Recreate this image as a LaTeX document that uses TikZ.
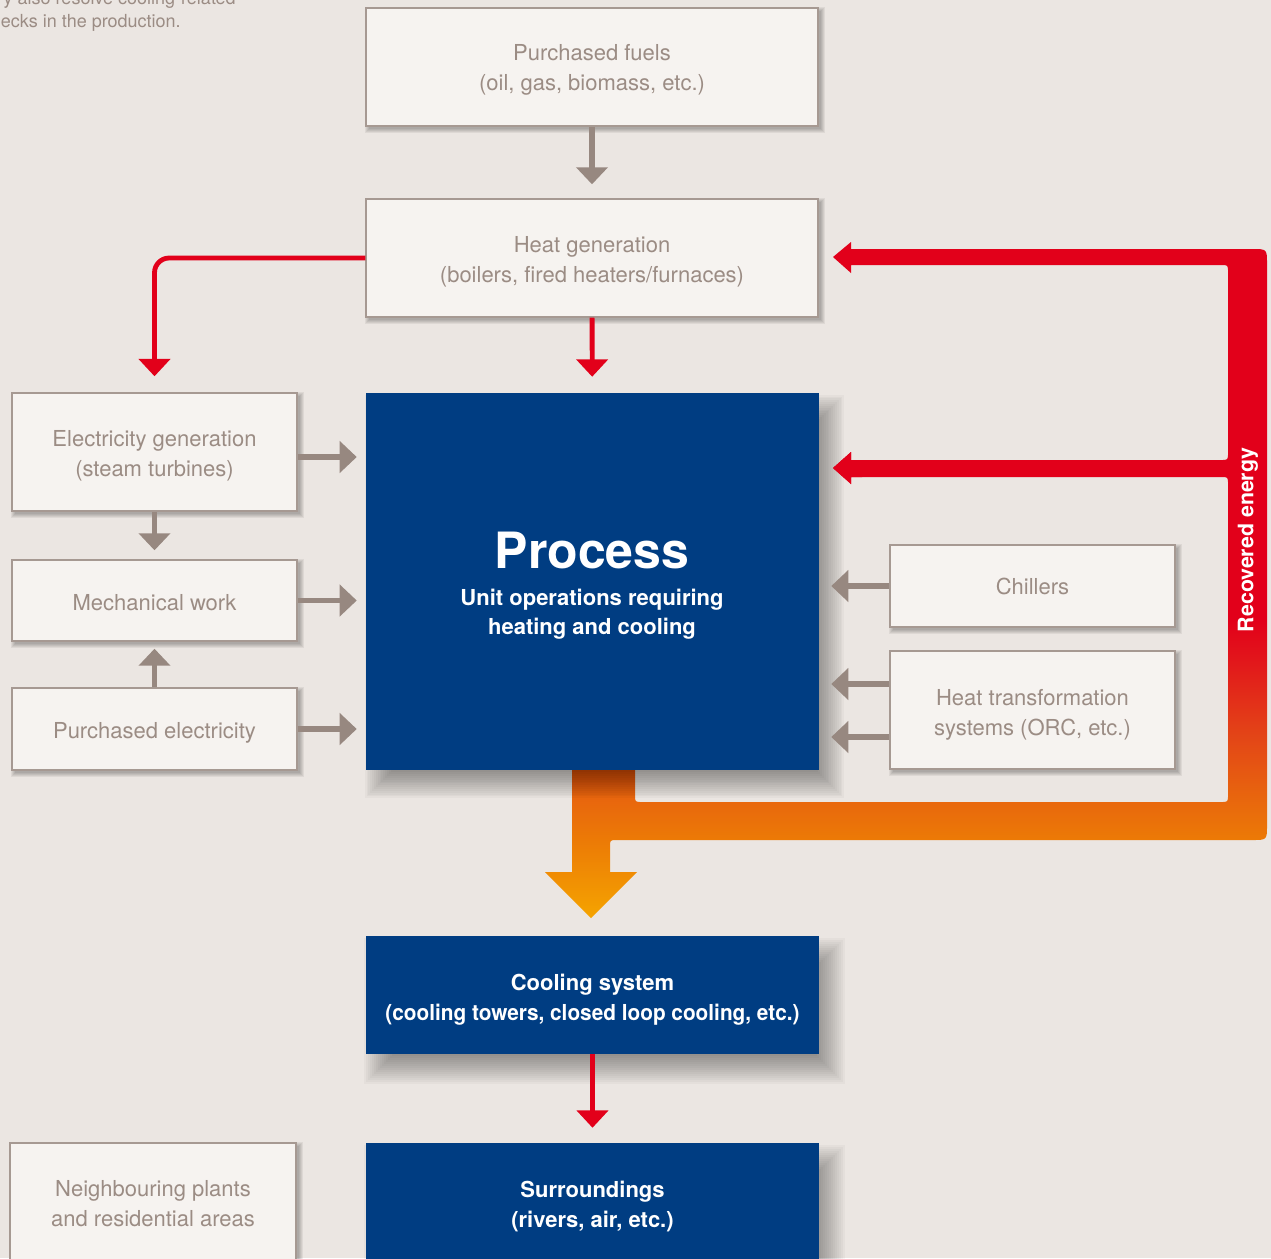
\documentclass[tikz,border=0pt]{standalone}
\usepackage{fontspec}
\setmainfont{TeX Gyre Heros}
\usetikzlibrary{arrows.meta,calc}
\definecolor{bgc}{RGB}{235,230,226}
\definecolor{boxfill}{RGB}{246,243,240}
\definecolor{boxline}{RGB}{166,153,146}
\definecolor{boxtext}{RGB}{155,140,132}
\definecolor{arrowgray}{RGB}{151,136,128}
\definecolor{procblue}{RGB}{0,61,130}
\definecolor{recred}{RGB}{226,0,26}
\definecolor{bandA}{RGB}{245,164,0}
\definecolor{bandB}{RGB}{236,122,6}
\definecolor{bandC}{RGB}{232,101,14}
\definecolor{bandD}{RGB}{227,69,23}
\definecolor{bandE}{RGB}{226,23,27}
\pgfdeclareverticalshading{bandshade}{100bp}{color(0bp)=(bandA); color(25bp)=(bandA); color(30.8bp)=(bandB); color(34bp)=(bandC); color(38.5bp)=(bandD); color(44bp)=(bandE); color(47bp)=(recred); color(100bp)=(recred)}
\pgfdeclarelayer{back}
\pgfdeclarelayer{shadowlayer}
\pgfsetlayers{back,shadowlayer,main}
% soft shadow: node, dx, dy, radius, steps, opacity per step (pixel units)
\newcommand\mkshadow[6]{%
  \foreach \k in {0,...,#5}{%
    \pgfmathsetmacro\g{#4*(2*\k/#5-1)}%
    \fill[black, opacity=#6] ($(#1.north west)+(#2-\g,#3-\g)$) rectangle ($(#1.south east)+(#2+\g,#3+\g)$);
  }%
}
\tikzset{
  lbox/.style={draw=boxline, line width=1.1pt, fill=boxfill, inner sep=0pt},
  bbox/.style={fill=procblue, inner sep=0pt},
  ltext/.style={text=boxtext, font=\fontsize{16.5}{22.5}\selectfont, align=center, inner sep=0pt},
  btext/.style={text=white, font=\bfseries\fontsize{16.5}{22.5}\selectfont, align=center, inner sep=0pt},
  garrow/.style={draw=arrowgray, line width=4pt, -{Triangle[length=12.75pt,width=23.25pt]}},
  rarrow/.style={draw=recred, line width=3.6pt, -{Triangle[length=13pt,width=23.25pt]}},
  note/.style={text=boxtext, font=\fontsize{13.5}{17}\selectfont, inner sep=0pt},
}
\begin{document}
\begin{tikzpicture}[x=0.75pt,y=-0.75pt]
\useasboundingbox (0,0) rectangle (1271,1258);
\begin{pgfonlayer}{back}
\fill[bgc] (0,0) rectangle (1271,1258);
% recovered energy band
\shade[shading=bandshade]
  (833,257) -- (851,242) -- (851,249)
  -- (1252,249) .. controls (1267,249) .. (1267,264)
  -- (1267,825) .. controls (1267,840) .. (1252,840)
  -- (617,840) .. controls (610,840) .. (610,847)
  -- (610,872) -- (637,872) -- (591,918) -- (545,872) -- (572,872)
  -- (572,765) -- (635,765)
  -- (635,795) .. controls (635,802) .. (642,802)
  -- (1221,802) .. controls (1228,802) .. (1228,795)
  -- (1228,484) .. controls (1228,477) .. (1221,477)
  -- (851,477) -- (851,484) -- (833,468) -- (851,452) -- (851,460)
  -- (1221,460) .. controls (1228,460) .. (1228,453)
  -- (1228,272) .. controls (1228,265) .. (1221,265)
  -- (851,265) -- (851,273) -- cycle;
\end{pgfonlayer}

% partial note text
\node[note, anchor=base east] (note1) at (236,4.5) {y also resolve cooling-related};
\node[note, anchor=base east] (note2) at (181,27) {ecks in the production.};

% arrow head over the process shadow
\fill[recred] (833,468) -- (851,452) -- (851,460) -- (862,460) -- (862,477) -- (851,477) -- (851,484) -- cycle;
\node[text=white, font=\bfseries\fontsize{16}{19}\selectfont, rotate=90, inner sep=0pt] (rec) at (1248,540) {Recovered energy};

% boxes
\node[lbox, minimum width=339pt, minimum height=88.5pt] (fuels) at (592,67) {};
\node[ltext] (fuelsT) at ([yshift=-2.5pt]fuels.center) {Purchased fuels\\(oil, gas, biomass, etc.)};
\node[lbox, minimum width=339pt, minimum height=88.5pt] (heat) at (592,258) {};
\node[ltext] (heatT) at ([yshift=-2.5pt]heat.center) {Heat generation\\(boilers, fired heaters/furnaces)};
\node[bbox, minimum width=339.75pt, minimum height=282.75pt] (proc) at (592.5,581.5) {};
\node[text=white, font=\bfseries\fontsize{37.5}{40}\selectfont, inner sep=0pt] (proctitle) at (592,550) {Process};
\node[text=white, font=\bfseries\fontsize{16.5}{21.75}\selectfont, align=center, inner sep=0pt] (procsub) at (592,614) {Unit operations requiring\\heating and cooling};
\node[lbox, minimum width=213.75pt, minimum height=88.5pt] (elec) at (154.5,452) {};
\node[ltext] (elecT) at ([yshift=-3pt]elec.center) {Electricity generation\\(steam turbines)};
\node[lbox, minimum width=213.75pt, minimum height=60.75pt] (mech) at (154.5,600.5) {};
\node[ltext] (mechT) at ([yshift=-1.5pt]mech.center) {Mechanical work};
\node[lbox, minimum width=213.75pt, minimum height=61.5pt] (purch) at (154.5,729) {};
\node[ltext] (purchT) at ([yshift=-3pt]purch.center) {Purchased electricity};
\node[lbox, minimum width=213.75pt, minimum height=61.5pt] (chill) at (1032.5,586) {};
\node[ltext] (chillT) at (chill.center) {Chillers};
\node[lbox, minimum width=213.75pt, minimum height=88.5pt] (htrans) at (1032.5,710) {};
\node[ltext] (htransT) at ([yshift=-3.75pt]htrans.center) {Heat transformation\\systems (ORC, etc.)};
\node[bbox, minimum width=339.75pt, minimum height=88.5pt] (cool) at (592.5,995) {};
\node[btext] (coolT) at ([yshift=-3.4pt]cool.center) {Cooling system\\\scalebox{0.945}[1]{(cooling towers, closed loop cooling, etc.)}};
\node[bbox, minimum width=339.75pt, minimum height=88.5pt] (surr) at (592.5,1202) {};
\node[btext] (surrT) at ([yshift=-3pt]surr.center) {Surroundings\\(rivers, air, etc.)};
\node[lbox, minimum width=214.5pt, minimum height=88.5pt] (neigh) at (153,1202) {};
\node[ltext] (neighT) at ([yshift=-1.5pt]neigh.center) {Neighbouring plants\\and residential areas};

% shadows
\begin{pgfonlayer}{shadowlayer}
\mkshadow{proc}{12}{15}{13}{14}{0.028}
\mkshadow{cool}{12}{16}{14}{14}{0.028}
\mkshadow{surr}{12}{16}{14}{14}{0.028}
\foreach \b in {fuels,heat,elec,mech,purch,chill,htrans,neigh}{\mkshadow{\b}{3}{3}{3.5}{6}{0.06}}
\end{pgfonlayer}

% connectors
\draw[garrow, shorten >=10.5pt] (fuels) -- (heat);
\draw[rarrow, shorten >=12pt] (heat) -- (proc);
\draw[rarrow, rounded corners=11pt, shorten >=12pt] (heat.west) -| (elec.north);
\draw[garrow, shorten >=6.75pt] ([yshift=-3.75pt]elec.east) -- ([yshift=-3.75pt]elec.east -| proc.west);
\draw[garrow, shorten >=6.75pt] (mech.east) -- (mech.east -| proc.west);
\draw[garrow, shorten >=6.75pt] (purch.east) -- (purch.east -| proc.west);
\draw[garrow, shorten >=6.75pt] (elec) -- (mech);
\draw[garrow, shorten >=5.25pt] (purch) -- (mech);
\draw[garrow, shorten >=9pt] (chill.west) -- (chill.west -| proc.east);
\draw[garrow, shorten >=9pt] ([yshift=19.5pt]htrans.west) -- ([yshift=19.5pt]htrans.west -| proc.east);
\draw[garrow, shorten >=9pt] ([yshift=-20.25pt]htrans.west) -- ([yshift=-20.25pt]htrans.west -| proc.east);
\draw[rarrow, shorten >=11.25pt] (cool) -- (surr);
\end{tikzpicture}
\end{document}
